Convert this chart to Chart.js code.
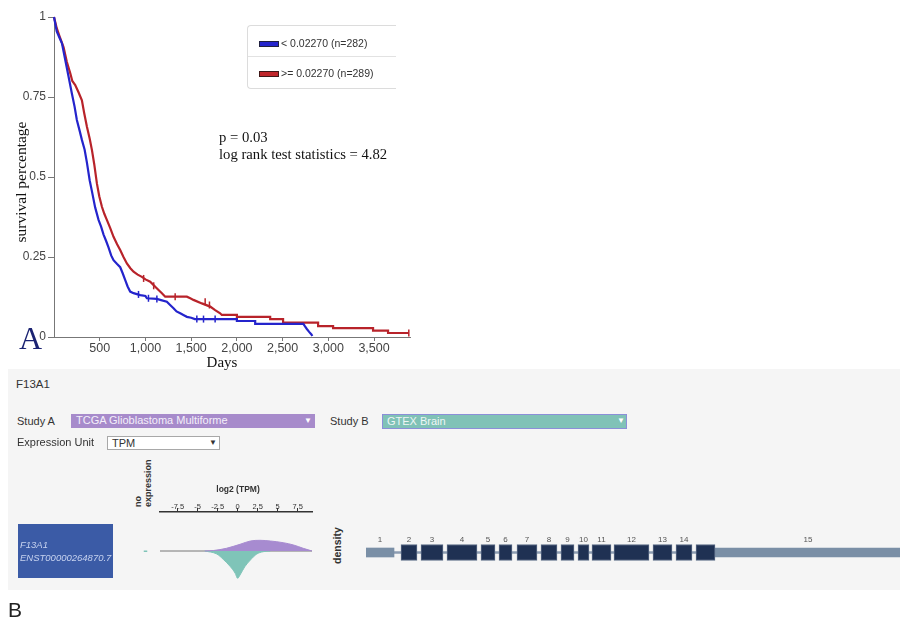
<!DOCTYPE html>
<html>
<head>
<meta charset="utf-8">
<script src="https://cdn.jsdelivr.net/npm/chart.js@4.4.1/dist/chart.umd.min.js"></script>
<style>
html,body{margin:0;padding:0;background:#fff;}
#root{position:relative;width:900px;height:624px;overflow:hidden;font-family:"Liberation Sans",Arial,sans-serif;color:#333;}
.abs{position:absolute;}
canvas{position:absolute;}
.ui{position:absolute;font-size:11px;line-height:13px;white-space:nowrap;color:#333;}
.sel{position:absolute;box-sizing:border-box;font-size:11px;line-height:13px;white-space:nowrap;padding-left:5px;}
.arrow{position:absolute;font-size:8px;line-height:13px;}
</style>
</head>
<body>
<div id="root">
  <!-- panel B background -->
  <div class="abs" style="left:8px;top:369px;width:892px;height:221px;background:#f5f5f5;"></div>

  <canvas id="km" width="420" height="372" style="left:0;top:0;"></canvas>

  <!-- legend -->
  <div class="abs" style="left:247px;top:25px;width:148px;height:62px;border:1px solid #dcdcdc;border-right:none;border-radius:4px 0 0 4px;background:#fff;">
    <div class="abs" style="left:0;top:30px;width:148px;height:1px;background:#e2e2e2;"></div>
    <div class="abs" style="left:11px;top:15px;width:18px;height:4px;background:#2424cc;border:1px solid #202040;"></div>
    <div class="abs" style="left:33px;top:11px;font-size:10.5px;line-height:13px;color:#333;white-space:nowrap;">&lt; 0.02270 (n=282)</div>
    <div class="abs" style="left:11px;top:45px;width:18px;height:4px;background:#c0262b;border:1px solid #401818;"></div>
    <div class="abs" style="left:33px;top:41px;font-size:10.5px;line-height:13px;color:#333;white-space:nowrap;">&gt;= 0.02270 (n=289)</div>
  </div>

  <div class="abs" style="left:19px;top:320px;font-family:'Liberation Serif',serif;font-size:32px;line-height:37px;color:#1b2372;">A</div>

  <!-- panel B UI -->
  <div class="ui" style="left:16px;top:378px;font-size:11.5px;">F13A1</div>
  <div class="ui" style="left:17px;top:415px;">Study A</div>
  <div class="sel" style="left:71px;top:414px;width:244px;height:14px;background:#a78bcb;color:#f4effa;">TCGA Glioblastoma Multiforme<span class="arrow" style="left:233px;top:0;color:#fff;">&#9660;</span></div>
  <div class="ui" style="left:330px;top:415px;">Study B</div>
  <div class="sel" style="left:382px;top:414px;width:245px;height:15px;background:#80c2b7;color:#eef6f5;border:1px solid #8b8fd8;padding-left:4px;line-height:12px;">GTEX Brain<span class="arrow" style="left:234px;top:0;line-height:12px;color:#fff;">&#9660;</span></div>
  <div class="ui" style="left:17px;top:436px;">Expression Unit</div>
  <div class="sel" style="left:107px;top:436px;width:113px;height:14px;background:#fff;border:1px solid #a8a8a8;color:#333;padding-left:4px;line-height:12px;">TPM<span class="arrow" style="left:101px;top:0;line-height:12px;color:#333;">&#9660;</span></div>

  <div class="abs" style="left:133px;top:507px;width:50px;font-weight:bold;font-size:9px;line-height:10px;color:#333;transform:rotate(-90deg);transform-origin:0 0;white-space:nowrap;">no<br>expression</div>
  <div class="abs" style="left:331px;top:564px;width:40px;font-weight:bold;font-size:10.5px;line-height:12px;color:#333;transform:rotate(-90deg);transform-origin:0 0;white-space:nowrap;">density</div>

  <div class="abs" style="left:18px;top:524px;width:95px;height:54px;background:#3b5ba6;"></div>
  <div class="abs" style="left:20px;top:539px;font-style:italic;font-size:9.5px;line-height:11px;color:#c6d2ef;white-space:nowrap;">F13A1</div>
  <div class="abs" style="left:20px;top:552px;font-style:italic;font-size:9.5px;line-height:11px;color:#c6d2ef;white-space:nowrap;">ENST00000264870.7</div>

  <canvas id="noexp" width="15" height="70" style="left:138px;top:512px;"></canvas>
  <canvas id="dens" width="186" height="115" style="left:136px;top:470px;"></canvas>
  <canvas id="gene" width="545" height="45" style="left:355px;top:530px;"></canvas>

  <div class="abs" style="left:8px;top:598px;font-size:21px;line-height:24px;color:#222;">B</div>
</div>

<script>
// ---------- Kaplan-Meier data (step corners listed explicitly in the tails) ----------
const kmLowDays = [0,30,60,87,120,159,196,225,250,280,305,335,360,390,415,450,487,515,542,570,596,625,651,690,724,750,779,805,833,870,943,1000,1016,1125,1161,1234,1270,1307,1340,1380,1420,1453,1500,1540,2000,2000,2200,2200,2727,2745,2765,2790,2815,2825];
const kmLowSurv = [1,0.955,0.935,0.918,0.87,0.814,0.76,0.72,0.678,0.645,0.616,0.585,0.545,0.49,0.455,0.405,0.366,0.345,0.32,0.30,0.28,0.255,0.24,0.228,0.218,0.20,0.178,0.158,0.142,0.137,0.131,0.128,0.121,0.119,0.116,0.11,0.10,0.09,0.08,0.074,0.068,0.063,0.06,0.056,0.056,0.05,0.05,0.041,0.041,0.033,0.025,0.016,0.008,0.003];
const kmHighDays = [0,30,60,105,140,178,200,232,268,305,330,360,390,415,440,469,495,524,550,578,615,651,690,724,760,797,835,870,915,961,1000,1052,1107,1143,1180,1216,1453,1490,1525,1617,1708,1762,1817,1835,2000,2000,2364,2364,2505,2505,2888,2888,3052,3052,3489,3489,3653,3653,3880];
const kmHighSurv = [1,0.965,0.94,0.905,0.86,0.824,0.80,0.7875,0.765,0.74,0.70,0.657,0.62,0.584,0.54,0.48,0.44,0.407,0.385,0.366,0.34,0.313,0.29,0.272,0.25,0.23,0.215,0.204,0.195,0.188,0.18,0.173,0.157,0.147,0.137,0.126,0.126,0.121,0.116,0.105,0.095,0.084,0.074,0.069,0.069,0.063,0.063,0.056,0.056,0.045,0.045,0.034,0.034,0.028,0.028,0.020,0.020,0.0125,0.0125];
const lowCensorDays = [924,1033,1125,1562,1635,1762];
const lowCensorSurv = [0.133,0.121,0.119,0.056,0.056,0.056];
const highCensorDays = [980,1090,1325,1653,1700,3880];
const highCensorSurv = [0.183,0.16,0.126,0.11,0.1,0.0125];
const kmXTicks = [500,1000,1500,2000,2500,3000,3500];
const kmYTicks = [0,0.25,0.5,0.75,1];
const kmSeriesNames = ['< 0.02270 (n=282)','>= 0.02270 (n=289)'];

// ---------- expression density data ----------
const tpmTicks = [-7.5,-5,-2.5,0,2.5,5,7.5];
const studyAlog2 = [-4.1,-3.0,-1.4,0.3,1.6,2.8,4.1,5.7,7.0,8.2,9.3];
const studyADensity = [0,0.005,0.027,0.067,0.10,0.107,0.10,0.083,0.06,0.027,0];
const studyBlog2 = [-4.1,-2.6,-1.8,-0.9,-0.3,0,0.3,0.9,1.6,2.4,3.2,4.1];
const studyBDensity = [0,0.03,0.083,0.157,0.223,0.273,0.24,0.157,0.09,0.03,0.007,0];
const studyBNoExpression = 0.01;

// ---------- transcript structure (relative position) ----------
const exonNumbers = [1,2,3,4,5,6,7,8,9,10,11,12,13,14,15];
const exonStart = [0,35,55,81,115,133,151,175,195,212,226,248,287,310,330];
const exonEnd = [28,51,77,111,129,146,171,191,208,223,245,283,306,326,554];
const cdsStart = 35;
const cdsEnd = 349;

const annotText = {
  id: 'annotText',
  afterDraw(chart, args, opts) {
    const ctx = chart.ctx;
    (opts.items || []).forEach(it => {
      ctx.save();
      ctx.font = it.font;
      ctx.fillStyle = it.color || '#111';
      ctx.textAlign = it.align || 'left';
      ctx.textBaseline = 'middle';
      ctx.translate(it.x, it.y);
      if (it.rotate) ctx.rotate(it.rotate);
      ctx.fillText(it.text, 0, 0);
      ctx.restore();
    });
  }
};

const BLUE = '#2424cc', RED = '#b8232a';

new Chart(document.getElementById('km'), {
  type: 'line',
  data: {
    datasets: [
      {label: kmSeriesNames[0], data: kmLowDays.map((d,i)=>({x:d,y:kmLowSurv[i]})), borderColor: BLUE, borderWidth: 2.2, pointRadius: 0, fill: false, clip: 6},
      {label: kmSeriesNames[1], data: kmHighDays.map((d,i)=>({x:d,y:kmHighSurv[i]})), borderColor: RED, borderWidth: 2.2, pointRadius: 0, fill: false, clip: 6},
      {label: 'censored low', data: lowCensorDays.map((d,i)=>({x:d,y:lowCensorSurv[i]})), showLine: false, pointStyle: 'line', rotation: 90, pointRadius: 3.5, pointBorderWidth: 1.5, borderColor: BLUE, pointBorderColor: BLUE, clip: 6},
      {label: 'censored high', data: highCensorDays.map((d,i)=>({x:d,y:highCensorSurv[i]})), showLine: false, pointStyle: 'line', rotation: 90, pointRadius: 3.5, pointBorderWidth: 1.5, borderColor: RED, pointBorderColor: RED, clip: 6}
    ]
  },
  options: {
    responsive: false, animation: false, devicePixelRatio: 1,
    layout: {padding: {left: 0, right: 10, top: 17, bottom: 0}},
    plugins: {
      legend: {display: false}, tooltip: {enabled: false},
      annotText: {items: [
        {text: 'survival percentage', x: 22, y: 182, rotate: -Math.PI/2, align: 'center', font: '15.5px "Liberation Serif"', color: '#111'},
        {text: 'Days', x: 222, y: 363, align: 'center', font: '15px "Liberation Serif"', color: '#111'},
        {text: 'p = 0.03', x: 219, y: 138, font: '14.7px "Liberation Serif"', color: '#111'},
        {text: 'log rank test statistics = 4.82', x: 219, y: 155, font: '14.7px "Liberation Serif"', color: '#111'}
      ]}
    },
    scales: {
      x: {
        type: 'linear', min: 0, max: 3893,
        afterFit: s => { s.height = 35; },
        afterBuildTicks: s => { s.ticks = kmXTicks.map(v => ({value: v})); },
        grid: {drawOnChartArea: false, drawTicks: true, tickLength: 4, color: '#777'},
        border: {display: true, color: '#777', width: 1},
        ticks: {padding: 0, color: '#444', font: {family: 'Liberation Sans', size: 12.5}, maxRotation: 0, autoSkip: false, callback: v => v.toLocaleString('en-US')}
      },
      y: {
        min: 0, max: 1,
        afterFit: s => { s.width = 54; },
        afterBuildTicks: s => { s.ticks = kmYTicks.map(v => ({value: v})); },
        grid: {drawOnChartArea: false, drawTicks: true, tickLength: 6, color: '#777'},
        border: {display: true, color: '#777', width: 1},
        ticks: {padding: 2, color: '#444', font: {family: 'Liberation Sans', size: 12}, callback: v => String(v)}
      }
    }
  },
  plugins: [annotText]
});

const PURPLE = '#a78bd0', TEAL = '#7fc4b8';
new Chart(document.getElementById('dens'), {
  type: 'line',
  data: {
    datasets: [
      {label: 'TCGA Glioblastoma Multiforme', data: studyAlog2.map((x,i)=>({x, y: studyADensity[i]})), fill: 'origin', backgroundColor: PURPLE, borderColor: PURPLE, borderWidth: 1, pointRadius: 0, cubicInterpolationMode: 'monotone', order: 1},
      {label: 'GTEX Brain', data: studyBlog2.map((x,i)=>({x, y: -studyBDensity[i]})), fill: 'origin', backgroundColor: TEAL, borderColor: TEAL, borderWidth: 1, pointRadius: 0, cubicInterpolationMode: 'monotone', order: 1},
      {label: 'baseline', data: [{x: -9.7, y: 0}, {x: 9.3, y: 0}], borderColor: '#777', borderWidth: 1, pointRadius: 0, fill: false, order: 5}
    ]
  },
  options: {
    responsive: false, animation: false, devicePixelRatio: 1,
    layout: {padding: {left: 24, right: 10, top: 0, bottom: 3}},
    plugins: {
      legend: {display: false}, tooltip: {enabled: false},
      annotText: {items: [
        {text: 'log2 (TPM)', x: 102, y: 20, align: 'center', font: 'bold 8.5px "Liberation Sans"', color: '#333'}
      ]}
    },
    scales: {
      x: {
        type: 'linear', position: 'top', min: -9.7, max: 9.3,
        afterFit: s => { s.height = 42; },
        afterBuildTicks: s => { s.ticks = tpmTicks.map(v => ({value: v})); },
        grid: {drawOnChartArea: false, drawTicks: true, tickLength: 4, color: '#333'},
        border: {display: true, color: '#333', width: 1.5},
        ticks: {padding: -3, color: '#333', font: {family: 'Liberation Sans', size: 7.5}, maxRotation: 0, autoSkip: false, callback: v => String(v)}
      },
      y: {display: false, min: -0.31, max: 0.39}
    }
  },
  plugins: [annotText]
});

// "no expression" column (same vertical scale as the density plot)
new Chart(document.getElementById('noexp'), {
  type: 'scatter',
  data: {datasets: [{label: 'GTEX Brain no expression', data: [{x: 0, y: -studyBNoExpression}], pointStyle: 'line', pointRadius: 2, pointBorderWidth: 1.5, pointBorderColor: TEAL, borderColor: TEAL}]},
  options: {
    responsive: false, animation: false, devicePixelRatio: 1,
    layout: {padding: 0},
    plugins: {legend: {display: false}, tooltip: {enabled: false}},
    scales: {x: {display: false, min: -1, max: 1}, y: {display: false, min: -0.31, max: 0.39}}
  }
});

// transcript structure
const geneDatasets = [{label: 'intron', data: [[0, exonEnd[exonEnd.length-1]]], backgroundColor: '#8d9db2', barThickness: 2, order: 10}];
exonStart.forEach((s, i) => {
  const e = exonEnd[i];
  const cs = Math.max(s, cdsStart), ce = Math.min(e, cdsEnd);
  if (s < cs) geneDatasets.push({label: 'UTR ' + exonNumbers[i], data: [[s, Math.min(e, cs)]], backgroundColor: '#7a8fa6', barThickness: 9, order: 2});
  if (ce < e) geneDatasets.push({label: 'UTR ' + exonNumbers[i], data: [[Math.max(s, ce), e]], backgroundColor: '#7a8fa6', barThickness: 9, order: 2});
  if (cs < ce) geneDatasets.push({label: 'exon ' + exonNumbers[i], data: [[cs, ce]], backgroundColor: '#1f3153', borderColor: '#5a6a86', borderWidth: 1, borderSkipped: false, barThickness: 16, order: 1});
});

const exonLabels = {
  id: 'exonLabels',
  afterDatasetsDraw(chart) {
    const ctx = chart.ctx, xs = chart.scales.x, area = chart.chartArea;
    const cy = (area.top + area.bottom) / 2;
    ctx.save();
    ctx.font = '8px "Liberation Sans"';
    ctx.fillStyle = '#555';
    ctx.textAlign = 'center';
    ctx.textBaseline = 'middle';
    exonNumbers.forEach((n, i) => {
      ctx.fillText(String(n), xs.getPixelForValue((exonStart[i] + exonEnd[i]) / 2), cy - 13);
    });
    ctx.restore();
  }
};

new Chart(document.getElementById('gene'), {
  type: 'bar',
  data: {labels: ['ENST00000264870.7'], datasets: geneDatasets},
  options: {
    indexAxis: 'y', responsive: false, animation: false, devicePixelRatio: 1,
    datasets: {bar: {grouped: false}},
    layout: {padding: {left: 11, right: 0, top: 5, bottom: 5}},
    plugins: {legend: {display: false}, tooltip: {enabled: false}},
    scales: {
      x: {display: false, min: 0, max: 534},
      y: {display: false}
    }
  },
  plugins: [exonLabels]
});
</script>
</body>
</html>
